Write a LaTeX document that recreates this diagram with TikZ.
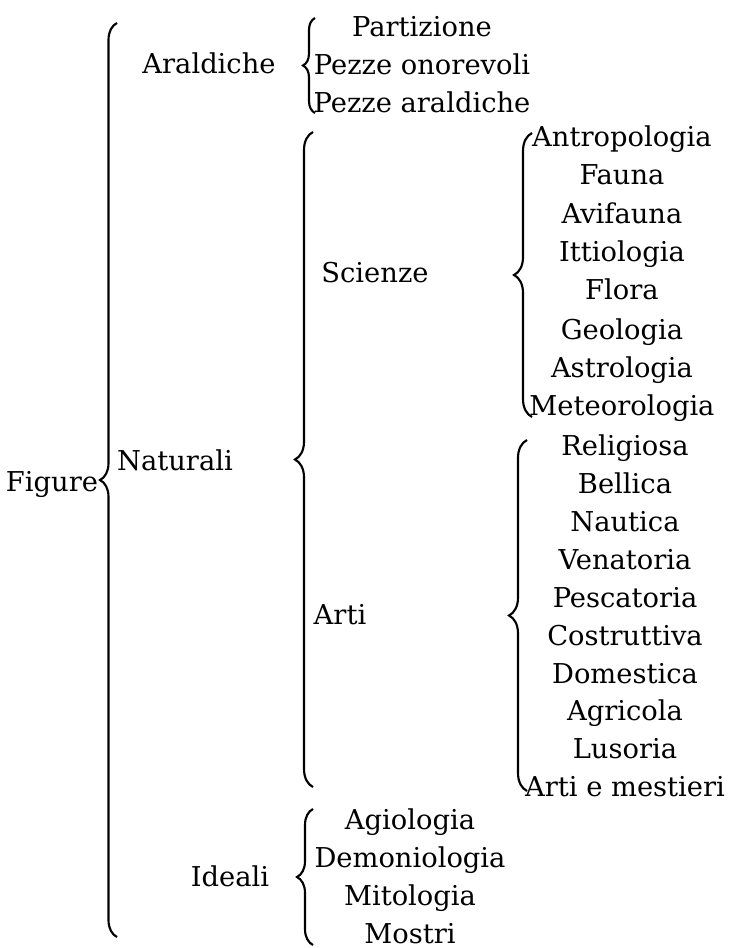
\documentclass[tikz,border=0pt]{standalone}
\usepackage{fontspec}
\setmainfont{DejaVu Serif}
\usetikzlibrary{decorations.pathreplacing}

\begin{document}
\begin{tikzpicture}[x=0.75pt,y=-0.75pt,
                    word node/.style={anchor=base,inner sep=0pt,font=\fontsize{20.5}{24}\selectfont},
                    curly/.style={decorate,decoration={brace,amplitude=#1},line width=1.6pt},
                    curly/.default=9pt
                   ]
  \useasboundingbox (0,0) rectangle (728,948);
  % first level
  \node[word node] (fig) at (52,491) {Figure};
  \node[word node] (ara) at (209,74) {Araldiche};
  \node[word node] (nat) at (175,470) {Naturali};
  \node[word node] (ide) at (230,886) {Ideali};
  % second level
  \node[word node] (part) at (422,37) {Partizione};
  \node[word node] (onor) at (422,75) {Pezze onorevoli};
  \node[word node] (pezz) at (422,113) {Pezze araldiche};
  \node[word node] (sci) at (375,282) {Scienze};
  \node[word node] (art) at (340,624) {Arti};
  \node[word node] (agio) at (410,829) {Agiologia};
  \node[word node] (demo) at (410,867) {Demoniologia};
  \node[word node] (mito) at (410,905) {Mitologia};
  \node[word node] (most) at (410,943) {Mostri};
  % third level, scienze
  \node[word node] (s1) at (622,147) {Antropologia};
  \node[word node] (s2) at (622,185) {Fauna};
  \node[word node] (s3) at (622,224) {Avifauna};
  \node[word node] (s4) at (622,262) {Ittiologia};
  \node[word node] (s5) at (622,300) {Flora};
  \node[word node] (s6) at (622,339) {Geologia};
  \node[word node] (s7) at (622,377) {Astrologia};
  \node[word node] (s8) at (622,415) {Meteorologia};
  % third level, arti
  \node[word node] (a1) at (625,455) {Religiosa};
  \node[word node] (a2) at (625,493) {Bellica};
  \node[word node] (a3) at (625,531) {Nautica};
  \node[word node] (a4) at (625,569) {Venatoria};
  \node[word node] (a5) at (625,607) {Pescatoria};
  \node[word node] (a6) at (625,645) {Costruttiva};
  \node[word node] (a7) at (625,683) {Domestica};
  \node[word node] (a8) at (625,720) {Agricola};
  \node[word node] (a9) at (625,758) {Lusoria};
  \node[word node] (a10) at (625,796) {Arti e mestieri};
  % brace ends
  \coordinate (figtop) at (117,23);   \coordinate (figbot) at (117,937);
  \coordinate (aratop) at (315,18);   \coordinate (arabot) at (315,113);
  \coordinate (nattop) at (313,132);  \coordinate (natbot) at (313,787);
  \coordinate (idetop) at (313,809);  \coordinate (idebot) at (313,945);
  \coordinate (scitop) at (532,133);  \coordinate (scibot) at (532,417);
  \coordinate (arttop) at (527,440);  \coordinate (artbot) at (527,791);
  \draw[curly=12.75pt] (figbot) -- (figtop);
  \draw[curly] (arabot) -- (aratop);
  \draw[curly=13.5pt] (natbot) -- (nattop);
  \draw[curly=12pt] (idebot) -- (idetop);
  \draw[curly=13.5pt] (scibot) -- (scitop);
  \draw[curly=13.5pt] (artbot) -- (arttop);
\end{tikzpicture}
\end{document}
